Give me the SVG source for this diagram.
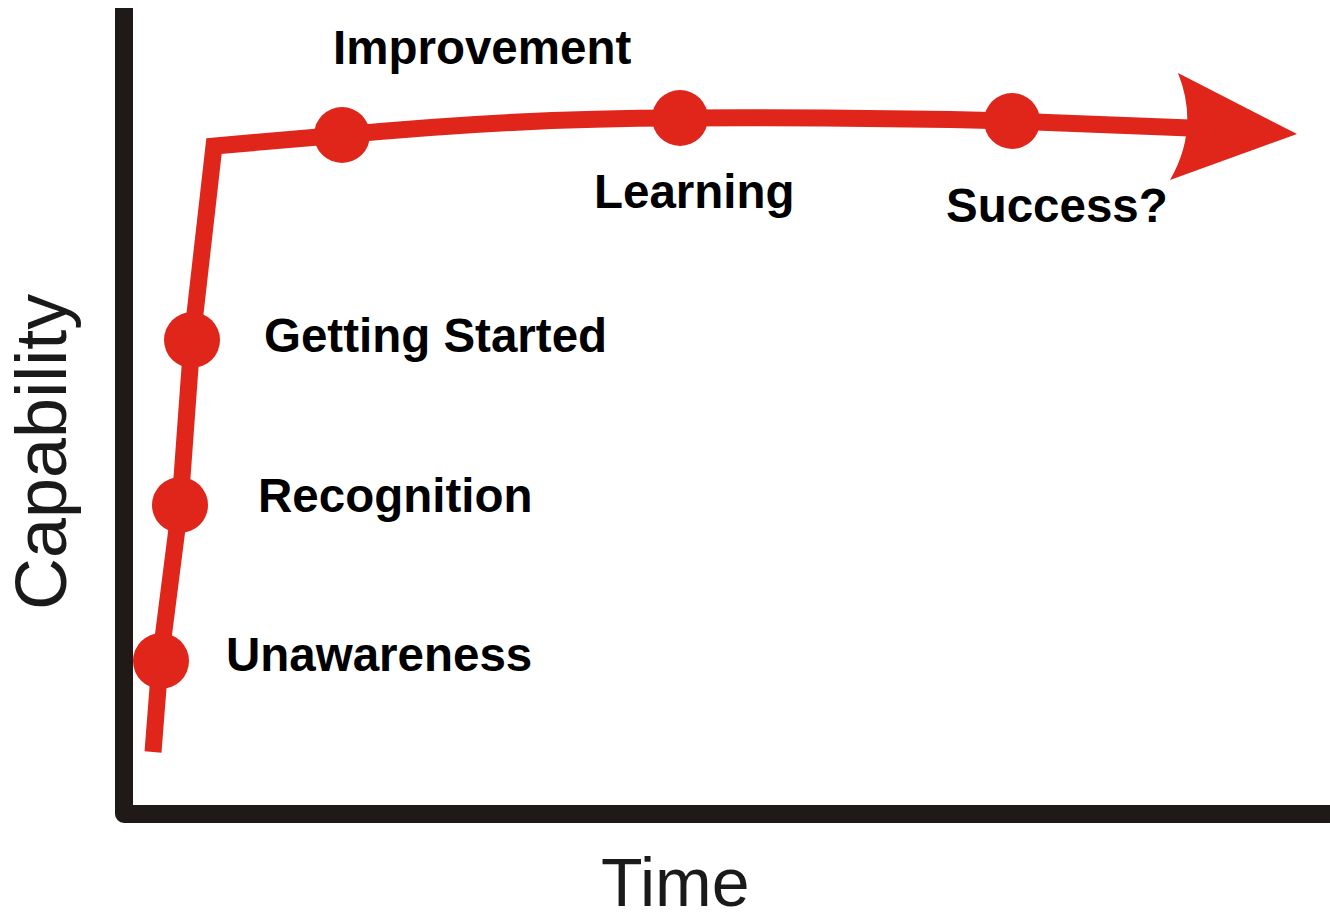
<svg xmlns="http://www.w3.org/2000/svg" width="1330" height="921" viewBox="0 0 1330 921">
  <style>
    .axis { fill: none; stroke: #1f1a17; stroke-width: 18; stroke-linejoin: round; }
    .curve { fill: none; stroke: #e0251b; stroke-width: 17; stroke-linejoin: miter; }
    .dot { fill: #e0251b; }
    .label { font-family: "Liberation Sans", Arial, sans-serif; font-weight: bold; font-size: 47.5px; fill: #000; }
    .axis-title { font-family: "Liberation Sans", Arial, sans-serif; font-size: 72px; fill: #1a1a1a; }
  </style>
  <rect width="1330" height="921" fill="#ffffff"/>

  <!-- axes -->
  <g id="axes">
    <path class="axis" d="M124,8 L124,814 L1330,814"/>
    <text class="axis-title" x="601" y="906" style="font-size:68px">Time</text>
    <text class="axis-title" transform="translate(66,610) rotate(-90)">Capability</text>
  </g>

  <!-- growth curve with arrowhead -->
  <g id="connectors">
    <path class="curve" d="M153,752 L160,662 L180,505 L192,340 L214,146 L342,135 Q520,118 680,118 Q850,117 1012,121 L1190,128"/>
    <path class="dot" d="M1178,73 L1297,134 L1170,180 Q1200,128 1178,73 Z"/>
  </g>

  <g id="unawareness">
    <circle class="dot" cx="161" cy="661" r="28"/>
    <text class="label" x="226" y="671">Unawareness</text>
  </g>
  <g id="recognition">
    <circle class="dot" cx="180" cy="505" r="28"/>
    <text class="label" x="258" y="512">Recognition</text>
  </g>
  <g id="getting-started">
    <circle class="dot" cx="192" cy="340" r="28"/>
    <text class="label" x="264" y="352">Getting Started</text>
  </g>
  <g id="improvement">
    <circle class="dot" cx="342" cy="135" r="28"/>
    <text class="label" x="333" y="64">Improvement</text>
  </g>
  <g id="learning">
    <circle class="dot" cx="680" cy="118" r="28"/>
    <text class="label" x="594" y="208">Learning</text>
  </g>
  <g id="success">
    <circle class="dot" cx="1012" cy="121" r="28"/>
    <text class="label" x="946" y="222">Success?</text>
  </g>
</svg>
